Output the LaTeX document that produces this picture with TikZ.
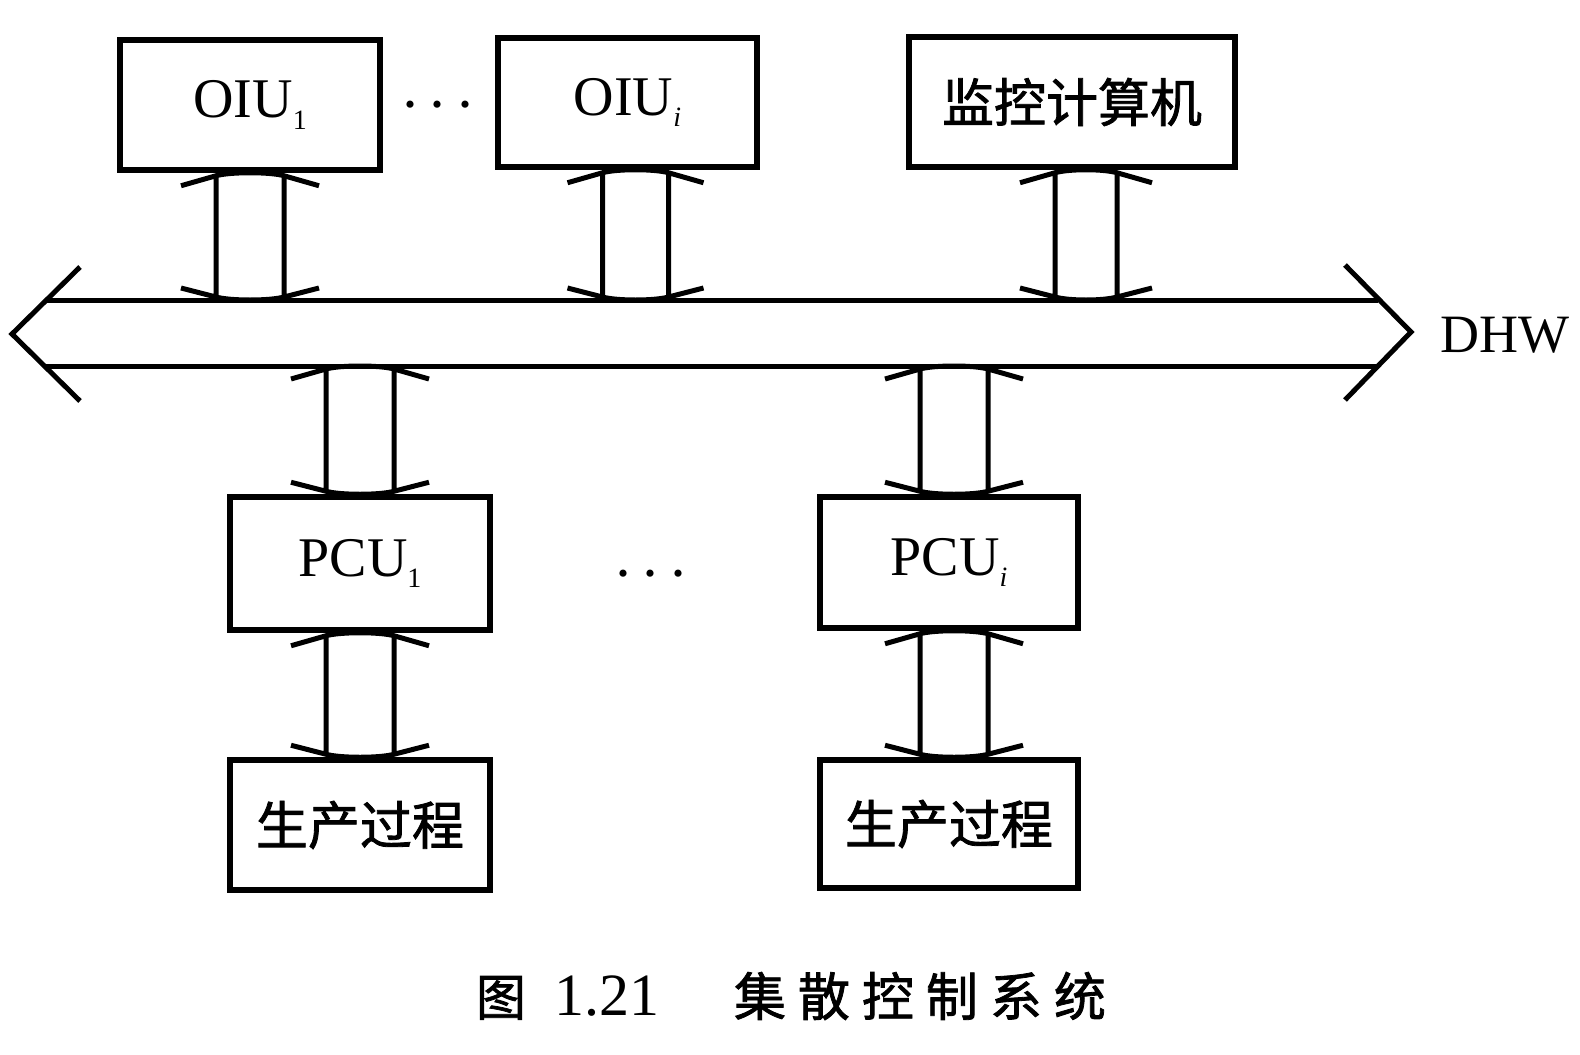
\documentclass[tikz,border=0pt]{standalone}
\usepackage{fontspec}
\setmainfont{Liberation Serif}
\newfontfamily\cjk[FakeBold=1.5]{Noto Sans CJK SC}
\usetikzlibrary{calc}
\newcommand\lowsub[1]{\raisebox{-0.2em}{\fontsize{28}{30}\selectfont #1}}
% double-line, double-headed connector: #1 top point, #2 bottom point, #3 half spacing
\newcommand\dblar[3]{%
 \draw[conn] let \p1=#1, \p2=#2 in
  ({\x1-#3},{\y1-3pt}) -- ({\x1-#3},{\y2+3pt})
  ({\x1+#3},{\y1-3pt}) -- ({\x1+#3},{\y2+3pt})
  ({\x1-#3-35pt},{\y1-13pt}) -- ({\x1-#3},{\y1-3pt})
     .. controls ({\x1-#3+14pt},{\y1+1pt}) and ({\x1+#3-14pt},{\y1+1pt}) .. ({\x1+#3},{\y1-3pt})
     -- ({\x1+#3+35pt},{\y1-13pt})
  ({\x1-#3-35pt},{\y2+12pt}) -- ({\x1-#3},{\y2+3pt})
     .. controls ({\x1-#3+14pt},{\y2-1pt}) and ({\x1+#3-14pt},{\y2-1pt}) .. ({\x1+#3},{\y2+3pt})
     -- ({\x1+#3+35pt},{\y2+12pt});}
\tikzset{
  box/.style={draw, line width=5.5pt, inner sep=0pt, font=\fontsize{56}{60}\selectfont},
  cbox/.style={box, font=\cjk\fontsize{52}{56}\selectfont},
  conn/.style={line width=5pt, line join=round},
  busline/.style={line width=5pt, line join=miter},
  dots/.style={inner sep=0pt, font=\fontsize{60}{64}\selectfont},
  lbl/.style={inner sep=0pt, font=\fontsize{54}{58}\selectfont},
}
\begin{document}
\begin{tikzpicture}[x=1pt,y=-1pt]
\useasboundingbox (0,0) rectangle (1580,1055);
% boxes
\node[box, minimum width=260, minimum height=130] (oiu1) at (250,105) {OIU\lowsub{1}};
\node[box, minimum width=259, minimum height=129] (oiui) at (627.5,102.5) {OIU\lowsub{\itshape i}};
\node[cbox, minimum width=326, minimum height=130] (mon) at (1072,102) {监控计算机};
\node[box, minimum width=260, minimum height=133] (pcu1) at (360,563.5) {PCU\lowsub{1}};
\node[box, minimum width=258, minimum height=131] (pcui) at (949,562.5) {PCU\lowsub{\itshape i}};
\node[cbox, minimum width=260, minimum height=130] (proc1) at (360,825) {生产过程};
\node[cbox, minimum width=258, minimum height=128] (proci) at (949,824) {生产过程};
% dots
\node[dots] (dtop) at (438,113) {·\hspace{8pt}·\hspace{8pt}·};
\node[dots] (dbot) at (651,582) {·\hspace{8pt}·\hspace{8pt}·};
% bus
\coordinate (busT) at (0,300);
\coordinate (busB) at (0,366);
\coordinate (tipL) at (12,334);
\coordinate (tipR) at (1411,332);
\draw[busline] (80,267) -- (tipL) -- (80,401);
\draw[busline] (1345,265) -- (tipR) -- (1345,400);
\draw[busline] (busT -| 46,0) -- (busT -| 1378,0);
\draw[busline] (busB -| 44,0) -- (busB -| 1377,0);
\node[lbl] (dhw) at (1505,335) {DHW};
% connectors
\dblar{(oiu1.south)}{(oiu1.south |- busT)}{34pt}
\dblar{([xshift=8pt]oiui.south)}{([xshift=8pt]oiui.south |- busT)}{33pt}
\dblar{([xshift=14pt]mon.south)}{([xshift=14pt]mon.south |- busT)}{31pt}
\dblar{(pcu1.north |- busB)}{(pcu1.north)}{34pt}
\dblar{([xshift=5pt]pcui.north |- busB)}{([xshift=5pt]pcui.north)}{34pt}
\dblar{(pcu1.south)}{(proc1.north)}{34pt}
\dblar{([xshift=5pt]pcui.south)}{([xshift=5pt]proci.north)}{34pt}
% caption
\node[inner sep=0pt] (cap) at (791,996) {{\cjk\fontsize{50}{54}\selectfont 图}\hspace{28pt}{\fontsize{60}{64}\selectfont 1.21}\hspace{75pt}{\cjk\fontsize{52}{56}\selectfont 集\hspace{12pt}散\hspace{12pt}控\hspace{12pt}制\hspace{12pt}系\hspace{12pt}统}};
\end{tikzpicture}
\end{document}
